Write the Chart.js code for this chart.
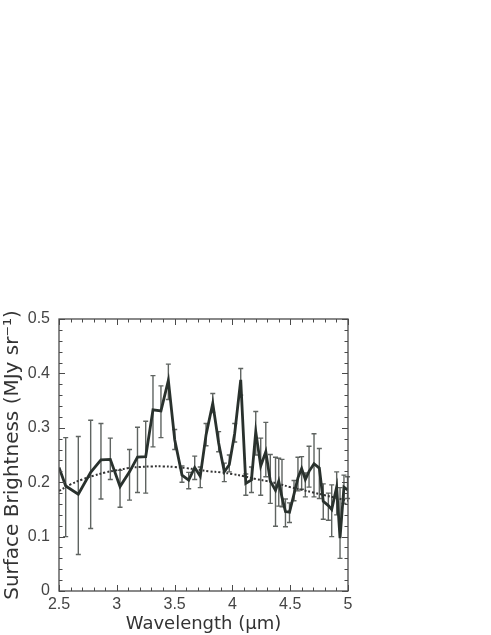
<!DOCTYPE html>
<html>
<head>
<meta charset="utf-8">
<script src="https://cdn.jsdelivr.net/npm/chart.js@4"></script>
<style>
  html, body { margin: 0; padding: 0; background: #ffffff; }
  #c { display: block; }
</style>
</head>
<body>
<canvas id="c" width="491" height="635"></canvas>
<script>
// ---- data ----
const wavelength = [2.500, 2.558, 2.667, 2.774, 2.863, 2.944, 3.028, 3.110, 3.179, 3.250,
  3.313, 3.382, 3.446, 3.501, 3.564, 3.622, 3.674, 3.722, 3.772, 3.830,
  3.881, 3.930, 3.973, 4.020, 4.072, 4.116, 4.165, 4.202, 4.245, 4.289,
  4.328, 4.373, 4.401, 4.429, 4.459, 4.494, 4.533, 4.567, 4.599, 4.631,
  4.663, 4.706, 4.752, 4.786, 4.830, 4.859, 4.902, 4.931, 4.965, 4.996];
const brightness = [0.227, 0.193, 0.178, 0.218, 0.241, 0.242, 0.192, 0.219, 0.246, 0.247,
  0.333, 0.331, 0.387, 0.278, 0.213, 0.204, 0.227, 0.211, 0.287, 0.345,
  0.272, 0.219, 0.232, 0.290, 0.388, 0.198, 0.204, 0.293, 0.230, 0.256,
  0.202, 0.185, 0.202, 0.172, 0.146, 0.145, 0.178, 0.208, 0.225, 0.205,
  0.220, 0.234, 0.226, 0.165, 0.157, 0.150, 0.191, 0.097, 0.191, 0.186];
const errLow = [null, 0.100, 0.067, 0.115, 0.169, 0.205, 0.154, 0.167, 0.181, 0.180,
  0.265, 0.282, 0.352, 0.260, 0.200, 0.188, 0.205, 0.190, 0.267, 0.328,
  0.256, 0.201, 0.219, 0.274, 0.360, 0.176, 0.181, 0.250, 0.176, 0.210,
  0.161, 0.119, 0.156, 0.155, 0.118, 0.126, 0.166, 0.184, 0.187, 0.173,
  0.191, 0.173, 0.170, 0.132, 0.130, 0.100, 0.140, 0.060, 0.161, 0.170];
const errHigh = [null, 0.282, 0.284, 0.314, 0.308, 0.281, 0.222, 0.260, 0.301, 0.312,
  0.396, 0.377, 0.417, 0.297, 0.230, 0.218, 0.248, 0.228, 0.308, 0.363,
  0.293, 0.235, 0.250, 0.308, 0.409, 0.215, 0.228, 0.330, 0.281, 0.310,
  0.251, 0.246, 0.244, 0.242, 0.169, 0.162, 0.203, 0.246, 0.247, 0.217,
  0.266, 0.289, 0.262, 0.197, 0.180, 0.195, 0.219, 0.190, 0.213, 0.210];

const modelWavelength = [2.5, 2.6, 2.7, 2.8, 2.9, 3.0, 3.1, 3.2, 3.3, 3.4, 3.5, 3.6, 3.7,
  3.8, 3.9, 4.0, 4.1, 4.2, 4.3, 4.4, 4.5, 4.6, 4.7, 4.8, 4.9, 5.0];
const modelBrightness = [0.184, 0.196, 0.205, 0.212, 0.218, 0.222, 0.226, 0.228, 0.229, 0.229,
  0.228, 0.226, 0.223, 0.220, 0.218, 0.215, 0.211, 0.206, 0.202, 0.197, 0.191, 0.186,
  0.181, 0.176, 0.171, 0.166];

const xTicks = [2.5, 3, 3.5, 4, 4.5, 5];
const xTickLabels = ['2.5', '3', '3.5', '4', '4.5', '5'];
const yTicks = [0, 0.1, 0.2, 0.3, 0.4, 0.5];
const yTickLabels = ['0', '0.1', '0.2', '0.3', '0.4', '0.5'];
const xMinorStep = 0.1;
const yMinorStep = 0.02;

// ---- styles ----
const frameColor = '#4a4a4a';
const lineColor = '#29312d';
const errColor = '#5f6461';

const framePlugin = {
  id: 'frameTicks',
  afterDatasetsDraw(chart) {
    const {ctx, chartArea: a, scales: {x, y}} = chart;
    ctx.save();
    ctx.strokeStyle = frameColor;
    ctx.lineWidth = 1.3;
    ctx.strokeRect(a.left, a.top, a.right - a.left, a.bottom - a.top);
    ctx.lineWidth = 1;
    const isMajor = (v, list) => list.some(t => Math.abs(t - v) < 1e-6);
    const nx = Math.round((x.max - x.min) / xMinorStep);
    for (let i = 0; i <= nx; i++) {
      const v = x.min + i * xMinorStep;
      const px = Math.round(x.getPixelForValue(v)) + 0.5;
      const len = isMajor(v, xTicks) ? 6 : 3.5;
      ctx.beginPath();
      ctx.moveTo(px, a.bottom); ctx.lineTo(px, a.bottom - len);
      ctx.moveTo(px, a.top); ctx.lineTo(px, a.top + len);
      ctx.stroke();
    }
    const ny = Math.round((y.max - y.min) / yMinorStep);
    for (let i = 0; i <= ny; i++) {
      const v = y.min + i * yMinorStep;
      const py = Math.round(y.getPixelForValue(v)) + 0.5;
      const len = isMajor(v, yTicks) ? 6 : 3.5;
      ctx.beginPath();
      ctx.moveTo(a.left, py); ctx.lineTo(a.left + len, py);
      ctx.moveTo(a.right, py); ctx.lineTo(a.right - len, py);
      ctx.stroke();
    }
    ctx.restore();
  }
};

const errorBarPlugin = {
  id: 'errorBars',
  beforeDatasetsDraw(chart) {
    const {ctx, scales: {x, y}} = chart;
    ctx.save();
    ctx.strokeStyle = errColor;
    ctx.lineWidth = 1.4;
    for (let i = 0; i < wavelength.length; i++) {
      if (errLow[i] == null || errHigh[i] == null) continue;
      const px = x.getPixelForValue(wavelength[i]);
      const pLo = y.getPixelForValue(errLow[i]);
      const pHi = y.getPixelForValue(errHigh[i]);
      ctx.beginPath();
      ctx.moveTo(px, pLo); ctx.lineTo(px, pHi);
      ctx.moveTo(px - 2.5, pLo); ctx.lineTo(px + 2.5, pLo);
      ctx.moveTo(px - 2.5, pHi); ctx.lineTo(px + 2.5, pHi);
      ctx.stroke();
    }
    ctx.restore();
  }
};

new Chart(document.getElementById('c'), {
  type: 'line',
  data: {
    datasets: [
      {
        label: 'Spectrum',
        data: wavelength.map((w, i) => ({x: w, y: brightness[i]})),
        borderColor: lineColor,
        borderWidth: 2.8,
        pointRadius: 0,
        tension: 0,
        fill: false,
        order: 1
      },
      {
        label: 'Model',
        data: modelWavelength.map((w, i) => ({x: w, y: modelBrightness[i]})),
        borderColor: '#333333',
        borderWidth: 2,
        borderDash: [2, 2],
        pointRadius: 0,
        tension: 0.4,
        fill: false,
        order: 2
      }
    ]
  },
  options: {
    responsive: false,
    animation: false,
    devicePixelRatio: 1,
    layout: { padding: { top: 319, right: 143, left: 0, bottom: 0 } },
    plugins: {
      legend: { display: false },
      tooltip: { enabled: false }
    },
    scales: {
      x: {
        type: 'linear',
        min: 2.5,
        max: 5,
        grid: { display: false, drawTicks: false },
        border: { display: false },
        afterBuildTicks: s => { s.ticks = xTicks.map(v => ({value: v})); },
        afterFit: s => { s.height = 44; },
        ticks: {
          padding: 4,
          maxRotation: 0,
          autoSkip: false,
          color: '#444444',
          font: { family: 'Liberation Sans', size: 16 },
          callback: (v) => xTickLabels[xTicks.findIndex(t => Math.abs(t - v) < 1e-6)]
        },
        title: {
          display: true,
          text: 'Wavelength (\u00b5m)',
          color: '#333333',
          font: { family: 'DejaVu Sans', size: 18 },
          padding: { top: 0, bottom: 0 }
        }
      },
      y: {
        type: 'linear',
        min: 0,
        max: 0.5,
        grid: { display: false, drawTicks: false },
        border: { display: false },
        afterBuildTicks: s => { s.ticks = yTicks.map(v => ({value: v})); },
        afterFit: s => { s.width = 59; },
        ticks: {
          padding: 9,
          autoSkip: false,
          color: '#444444',
          font: { family: 'Liberation Sans', size: 16 },
          callback: (v) => yTickLabels[yTicks.findIndex(t => Math.abs(t - v) < 1e-6)]
        },
        title: {
          display: true,
          text: 'Surface Brightness (MJy sr\u207b\u00b9)',
          color: '#333333',
          font: { family: 'DejaVu Sans', size: 20 },
          padding: { top: 1, bottom: 0 }
        }
      }
    }
  },
  plugins: [errorBarPlugin, framePlugin]
});
</script>
</body>
</html>
